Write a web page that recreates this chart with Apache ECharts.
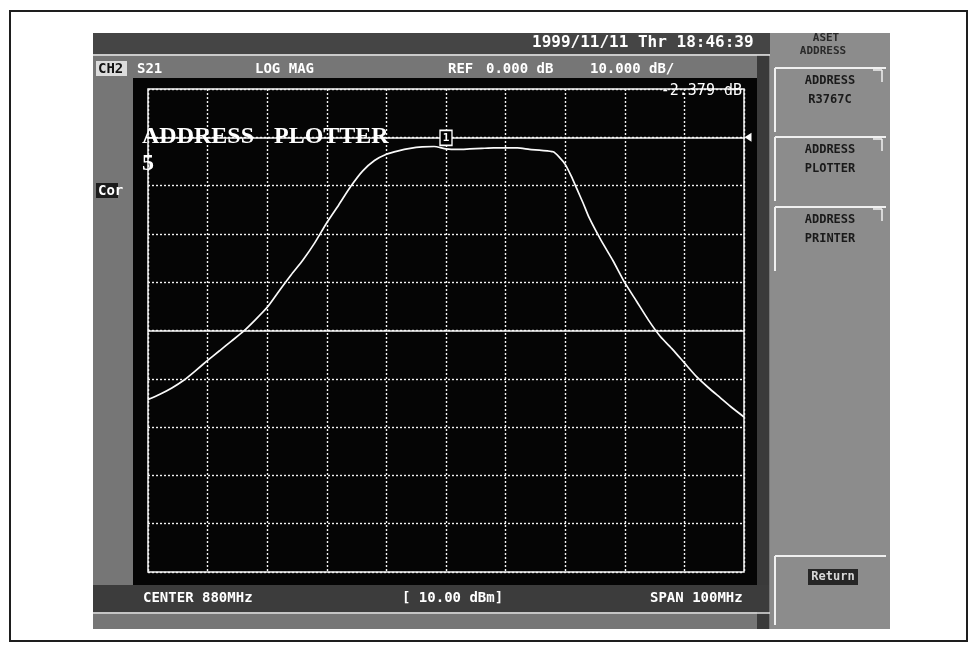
<!DOCTYPE html>
<html>
<head>
<meta charset="utf-8">
<script src="https://cdn.jsdelivr.net/npm/echarts@6/dist/echarts.min.js"></script>
<style>
  html, body { margin: 0; padding: 0; background: #fff; }
  #chart { width: 971px; height: 645px; }
</style>
</head>
<body>
<div id="chart"></div>
<script>
// S21 transmission sweep, LOG MAG, centre 880 MHz, span 100 MHz
const freqMHz = [830, 832, 834, 836, 838, 840, 842, 844, 846, 848, 850, 852, 854, 856, 858,
                 860, 862, 864, 866, 868, 870, 872, 874, 876, 878, 880, 882, 884, 886, 888,
                 890, 892, 894, 896, 898, 899, 900, 901, 902, 903, 904, 906, 908, 910, 912,
                 914, 916, 918, 920, 922, 924, 926, 928, 930];
const s21dB   = [-54.3, -53.2, -51.9, -50.3, -48.3, -46.2, -44.2, -42.2, -40.2, -37.8, -35.2, -31.8, -28.5, -25.4, -21.8,
                 -17.7, -14.0, -10.2, -7.0, -4.8, -3.5, -2.8, -2.3, -2.0, -1.9, -2.379, -2.5, -2.4, -2.3, -2.2,
                 -2.2, -2.2, -2.5, -2.7, -3.0, -4.1, -5.6, -8.0, -10.8, -13.6, -16.6, -21.3, -25.5, -30.1, -34.0,
                 -37.9, -41.3, -43.9, -46.7, -49.5, -51.8, -53.9, -56.0, -57.9];

// Axis settings: 10 divisions each way
const freqStart = 830, freqStop = 930, freqStep = 10;
const refLevel = 0, dbTop = 10, dbBottom = -90, dbPerDiv = 10;
const centreLineDb = -40;

// Marker 1
const markerFreq = 880;
const markerDb = -2.379;

const chart = echarts.init(document.getElementById('chart'), null, { renderer: 'canvas' });

const mono = '"DejaVu Sans Mono", "Liberation Mono", monospace';
const serif = '"Liberation Serif", "DejaVu Serif", serif';
const grayMid = '#767676';
const grayDark = '#454545';
const grayLight = '#8c8c8c';

function txt(x, y, s, opts) {
  return Object.assign({
    type: 'text', x: x, y: y, z: 50,
    style: Object.assign({
      text: s, fill: '#fff', font: 'bold 14px ' + mono,
      textVerticalAlign: 'middle', textAlign: 'left'
    }, opts || {})
  });
}
function rect(x, y, w, h, fill, z) {
  return { type: 'rect', z: z === undefined ? -20 : z, shape: { x: x, y: y, width: w, height: h }, style: { fill: fill } };
}
function line(x1, y1, x2, y2, color, w, z) {
  return { type: 'line', z: z === undefined ? -5 : z, shape: { x1: x1, y1: y1, x2: x2, y2: y2 },
           style: { stroke: color, lineWidth: w || 1.5 } };
}

function softkey(y, h, l1, l2) {
  const els = [
    line(775, y, 886, y, '#f0f0f0', 2),
    line(775, y, 775, y + h, '#f0f0f0', 2),
    line(873, y + 2, 882, y + 2, '#f0f0f0', 1.5),
    line(882, y + 2, 882, y + 14, '#f0f0f0', 1.5)
  ];
  els.push(txt(830, y + 13, l1, { fill: '#1a1a1a', textAlign: 'center', font: 'bold 12px ' + mono }));
  if (l2) els.push(txt(830, y + 32, l2, { fill: '#1a1a1a', textAlign: 'center', font: 'bold 12px ' + mono }));
  return els;
}

const graphics = [
  // page frame
  { type: 'rect', z: -30, shape: { x: 10, y: 11, width: 957, height: 630 }, style: { fill: '#fff', stroke: '#1e1e1e', lineWidth: 2 } },
  // instrument screen
  rect(93, 33, 797, 596, grayMid),
  rect(93, 33, 680, 21, grayDark),
  line(93, 55, 770, 55, '#e8e8e8', 1.5),
  rect(770, 33, 120, 596, grayLight),
  rect(757, 55, 12, 574, '#3a3a3a'),
  // trace window
  rect(133, 78, 624, 507, '#050505', -15),
  // bottom status bar
  rect(93, 585, 676, 27, '#3c3c3c', -15),
  line(93, 613, 770, 613, '#e0e0e0', 1.5),
  // header row
  txt(532, 43, '1999/11/11 Thr 18:46:39', { font: 'bold 16px ' + mono }),
  rect(96, 61, 31, 15, '#dcdcdc', 40),
  txt(98, 69, 'CH2', { fill: '#111', font: 'bold 14px ' + mono }),
  txt(137, 69, 'S21'),
  txt(255, 69, 'LOG MAG'),
  txt(448, 69, 'REF'),
  txt(486, 69, refLevel.toFixed(3) + ' dB'),
  txt(590, 69, dbPerDiv.toFixed(3) + ' dB/'),
  // left annotation
  rect(96, 183, 22, 15, '#1c1c1c', 40),
  txt(98, 191, 'Cor'),
  // softkey header
  txt(826, 38, 'ASET', { fill: '#2a2a2a', textAlign: 'center', font: 'bold 11px ' + mono }),
  txt(823, 51, 'ADDRESS', { fill: '#2a2a2a', textAlign: 'center', font: 'bold 11px ' + mono }),
  // bottom bar text
  txt(143, 598, 'CENTER ' + ((freqStart + freqStop) / 2) + 'MHz'),
  txt(402, 598, '[ 10.00 dBm]'),
  txt(650, 598, 'SPAN ' + (freqStop - freqStart) + 'MHz'),
  // Return key
  line(775, 556, 886, 556, '#f0f0f0', 2),
  line(775, 556, 775, 625, '#f0f0f0', 2),
  rect(808, 569, 50, 16, '#262626', 40),
  txt(833, 577, 'Return', { fill: '#d8d8d8', textAlign: 'center', font: 'bold 12px ' + mono }),
  // overlay title on the trace window
  txt(142, 137, 'ADDRESS', { font: 'bold 24px ' + serif, fill: '#fff', z: 60 }),
  txt(274, 137, 'PLOTTER', { font: 'bold 24px ' + serif, fill: '#fff', z: 60 }),
  txt(142, 164, '5', { font: 'bold 24px ' + serif, fill: '#fff', z: 60 }),
  // marker readout
  txt(742, 91, markerDb.toFixed(3) + ' dB', { textAlign: 'right', font: '15px ' + mono })
]
  .concat(softkey(68, 64, 'ADDRESS', 'R3767C'))
  .concat(softkey(137, 64, 'ADDRESS', 'PLOTTER'))
  .concat(softkey(207, 64, 'ADDRESS', 'PRINTER'));

const gridDots = { color: '#f2f2f2', width: 1.4, type: [2, 2] };

chart.setOption({
  animation: false,
  backgroundColor: '#fff',
  graphic: { elements: graphics },
  grid: {
    left: 148, top: 89, width: 596, height: 483,
    show: true, borderColor: '#f5f5f5', borderWidth: 1.5, backgroundColor: 'transparent'
  },
  xAxis: {
    type: 'value', min: freqStart, max: freqStop, interval: freqStep,
    axisLine: { show: false }, axisTick: { show: false }, axisLabel: { show: false },
    splitLine: { show: true, lineStyle: gridDots }
  },
  yAxis: {
    type: 'value', min: dbBottom, max: dbTop, interval: dbPerDiv,
    axisLine: { show: false }, axisTick: { show: false }, axisLabel: { show: false },
    splitLine: { show: true, lineStyle: gridDots }
  },
  series: [{
    type: 'line',
    data: freqMHz.map((f, i) => [f, s21dB[i]]),
    showSymbol: false,
    smooth: 0.2,
    lineStyle: { color: '#fafafa', width: 1.7 },
    z: 10,
    markLine: {
      silent: true, symbol: 'none', label: { show: false },
      lineStyle: { color: '#f8f8f8', width: 1.6, type: 'solid' },
      data: [{ yAxis: refLevel }, { yAxis: centreLineDb }]
    },
    markPoint: {
      silent: true,
      data: [
        {
          coord: [markerFreq, markerDb], symbol: 'rect', symbolSize: [12, 15], symbolOffset: [0, -11],
          itemStyle: { color: '#000', borderColor: '#fff', borderWidth: 1.5 },
          label: { show: true, formatter: '1', color: '#fff', fontSize: 11, fontFamily: mono, fontWeight: 'bold' }
        },
        {
          coord: [freqStop, refLevel], symbol: 'path://M0,5 L10,0 L10,10 Z', symbolSize: [7, 9], symbolOffset: [4, 0],
          itemStyle: { color: '#fff' }, label: { show: false }
        }
      ]
    }
  }]
});
</script>
</body>
</html>
